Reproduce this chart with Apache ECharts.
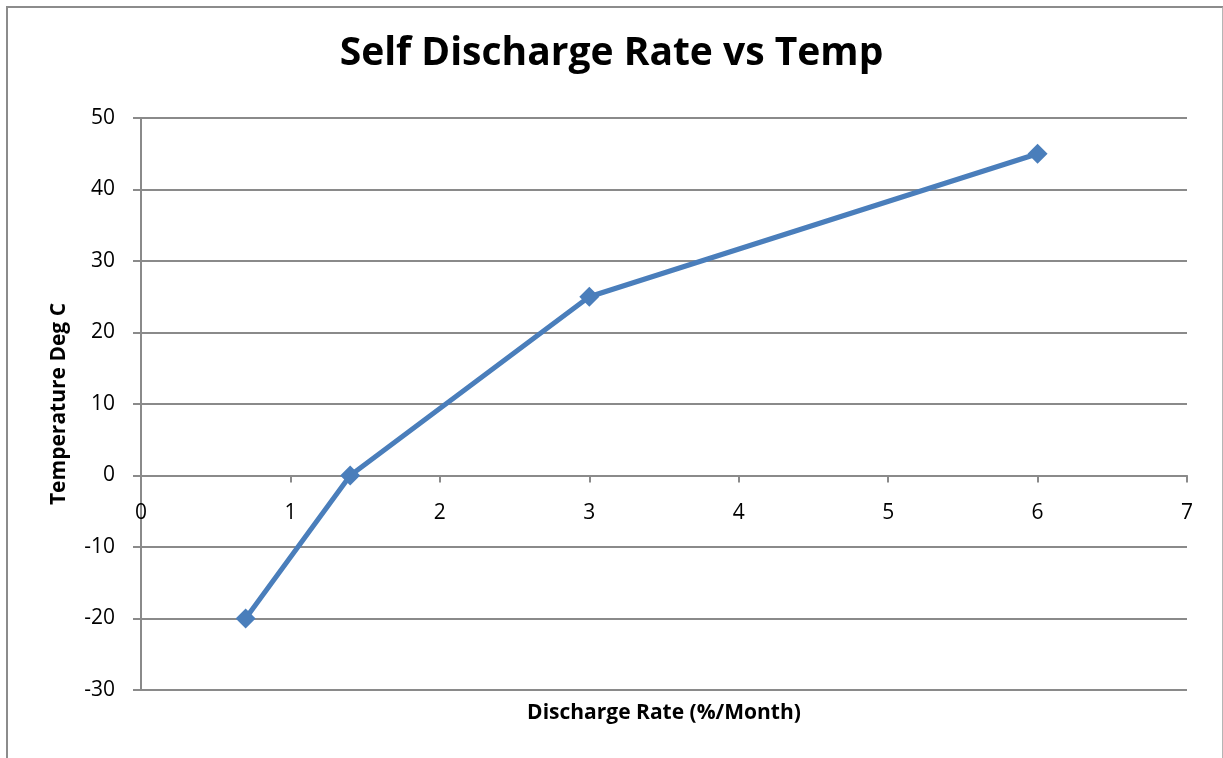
<!DOCTYPE html>
<html>
<head>
<meta charset="utf-8">
<title>Self Discharge Rate vs Temp</title>
<script src="https://cdn.jsdelivr.net/npm/echarts@6/dist/echarts.min.js"></script>
<style>
    html, body { margin: 0; padding: 0; background: #fff; }
    #frame {
        position: absolute; left: 6px; top: 6px; width: 1214px; height: 760px;
        border-left: 2px solid #8c8c8c; border-top: 2px solid #8c8c8c; border-right: 2px solid #b5b5b5;
    }
    #chart { position: absolute; left: 0; top: 0; width: 1223px; height: 758px; }
</style>
</head>
<body>
<div id="frame"></div>
<div id="chart"></div>
<script>
// discharge rate (%/month) and temperature (deg C)
var dischargeRate = [0.7, 1.4, 3, 6];
var temperature = [-20, 0, 25, 45];

var chart = echarts.init(document.getElementById('chart'));
var font = '"Open Sans", "Liberation Sans", sans-serif';
var grey = '#8a8a8a';

var option = {
    animation: false,
    title: {
        text: 'Self Discharge Rate vs Temp',
        left: 'center',
        top: 29,
        textStyle: {fontFamily: font, fontSize: 39, fontWeight: 'bold', color: '#000'}
    },
    grid: {left: 141, right: 36, top: 118, bottom: 68, containLabel: false, outerBoundsMode: 'none'},
    xAxis: {
        type: 'value',
        min: 0,
        max: 7,
        interval: 1,
        name: 'Discharge Rate (%/Month)',
        nameLocation: 'middle',
        nameGap: 13,
        nameTextStyle: {fontFamily: font, fontSize: 21, fontWeight: 'bold', color: '#000'},
        axisLine: {onZero: true, lineStyle: {color: grey, width: 2}},
        axisTick: {show: true, length: 7, inside: false, lineStyle: {color: grey, width: 2}},
        // labels sit just under the zero line, as in the source chart
        axisLabel: {fontFamily: font, fontSize: 21, color: '#000', margin: -187},
        splitLine: {show: false}
    },
    yAxis: {
        type: 'value',
        min: -30,
        max: 50,
        interval: 10,
        name: 'Temperature Deg C',
        nameLocation: 'middle',
        nameGap: 71,
        nameTextStyle: {fontFamily: font, fontSize: 21, fontWeight: 'bold', color: '#000'},
        axisLine: {show: true, onZero: false, lineStyle: {color: grey, width: 2}},
        axisTick: {show: true, length: 8, lineStyle: {color: grey, width: 2}},
        axisLabel: {fontFamily: font, fontSize: 21, color: '#000', margin: 26},
        splitLine: {show: true, lineStyle: {color: grey, width: 2}}
    },
    series: [{
        type: 'line',
        data: dischargeRate.map(function (x, i) { return [x, temperature[i]]; }),
        symbol: 'diamond',
        symbolSize: 20,
        lineStyle: {color: '#4a7ebb', width: 5},
        itemStyle: {color: '#4a7ebb'}
    }]
};
chart.setOption(option);
</script>
</body>
</html>
